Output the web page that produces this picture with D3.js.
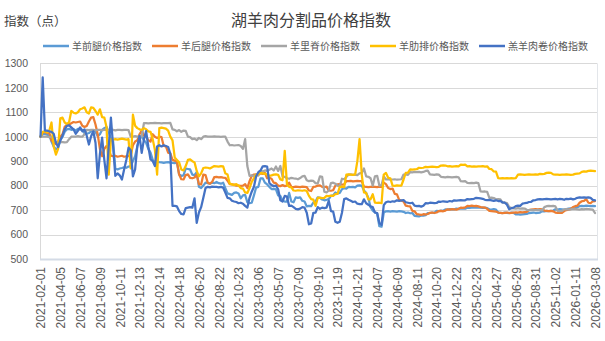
<!DOCTYPE html>
<html>
<head>
<meta charset="utf-8">
<script src="https://cdn.jsdelivr.net/npm/d3@7"></script>
<style>
  body { margin: 0; background: #fff; }
  svg { display: block; }
  text { font-family: "Microsoft YaHei", "Noto Sans CJK SC", sans-serif; }
</style>
</head>
<body>
<svg id="chart" width="605" height="341"></svg>
<script>
// Category labels shown on the x axis (one every 9 weekly observations)
const tickLabels = ['2021-02-01','2021-04-05','2021-06-07','2021-08-09','2021-10-11','2021-12-13',
  '2022-02-14','2022-04-18','2022-06-20','2022-08-22','2022-10-23','2023-03-06','2023-05-07',
  '2023-07-09','2023-09-10','2023-11-19','2024-01-21','2024-04-07','2024-06-09','2024-08-11',
  '2024-10-20','2024-12-22','2025-02-23','2025-04-27','2025-06-29','2025-08-31','2025-11-02',
  '2026-01-11','2026-03-08'];
const tickStep = 9;

const yTicks = [500, 600, 700, 800, 900, 1000, 1100, 1200, 1300];

const seriesNames = ['羊前腿价格指数', '羊后腿价格指数', '羊里脊价格指数', '羊肋排价格指数', '羔羊肉卷价格指数'];
const seriesColors = ['#5B9BD5', '#ED7D31', '#A5A5A5', '#FFC000', '#4472C4'];

// 羊前腿价格指数
const foreLeg = [
  1000,1010,1012,1008,1005,980,960,948,955,985,
  1000,1020,1030,1032,1028,1030,1025,1032,1030,1028,
  1015,1012,1015,1022,1025,1020,1002,1010,1028,1035,
  1040,1020,990,980,870,866,870,872,875,873,
  878,880,900,920,960,990,1003,985,975,950,
  935,905,895,898,896,895,893,895,896,894,
  893,892,895,845,840,842,870,868,866,845,
  843,855,795,790,800,812,810,808,812,810,
  815,810,808,812,790,768,765,762,770,772,
  768,748,760,762,732,728,730,760,792,795,
  830,830,812,805,795,786,787,785,760,758,
  738,735,735,770,735,732,752,750,752,738,
  735,715,717,716,731,735,752,750,743,740,
  742,745,758,760,772,768,770,785,790,788,
  795,794,795,793,800,801,800,780,770,750,
  712,698,690,686,634,632,690,695,696,694,
  696,695,694,696,695,693,688,690,687,688,
  676,675,674,678,677,679,688,688,690,689,
  697,696,698,697,703,702,704,703,703,706,
  705,707,706,706,710,709,710,711,710,710,
  710,709,710,708,703,702,704,702,690,689,
  688,690,689,688,690,689,682,683,681,682,
  683,684,688,689,690,688,689,690,696,695,
  697,696,697,698,703,702,704,703,702,704,
  706,707,706,708,712,716,717,716,718,717,
  716,717,716
];

// 羊后腿价格指数
const hindLeg = [
  1000,1018,1020,1015,1016,985,975,970,980,1000,
  1010,1040,1048,1050,1055,1060,1058,1060,1062,1045,
  1040,1044,1062,1078,1080,1050,1010,950,920,950,
  962,948,922,920,922,918,920,922,918,920,
  921,925,965,980,985,1010,1025,1005,1000,985,
  980,1010,1000,995,1000,998,962,960,935,932,
  905,902,898,845,826,825,843,846,832,830,
  833,845,806,805,845,843,812,808,815,835,
  836,834,835,833,832,820,806,805,804,800,
  800,799,800,806,790,818,840,845,846,845,
  850,848,852,830,832,828,812,810,800,798,
  802,798,800,812,795,794,796,795,794,796,
  795,794,780,778,795,796,800,801,795,794,
  796,780,779,781,800,805,806,804,805,818,
  818,819,817,818,819,818,818,796,795,794,
  795,796,795,794,796,795,812,806,790,786,
  788,766,764,742,738,735,718,716,715,697,
  695,683,682,680,683,682,684,689,690,688,
  690,696,697,695,698,703,702,704,703,702,
  705,710,709,711,717,716,718,716,717,715,
  712,711,710,705,697,696,695,694,690,689,
  688,689,690,688,689,690,691,690,692,691,
  692,693,700,702,703,704,703,704,703,698,
  697,696,697,695,690,689,690,689,696,700,
  702,705,712,716,718,730,736,738,745,730,
  728,736,737
];

// 羊里脊价格指数
const tenderloin = [
  1000,1000,1000,1000,998,1000,985,978,976,978,
  978,977,978,990,1000,1000,1000,1002,1000,1000,
  1010,1028,1027,1028,1028,1026,1028,1028,1027,1028,
  1028,1027,1028,1028,1026,1028,1028,1027,1028,1028,
  1027,1000,1000,1002,1000,1000,1001,1055,1055,1054,
  1055,1055,1056,1055,1055,1054,1055,1055,1055,1056,
  1030,1028,1022,1027,1020,1025,1024,1000,998,990,
  992,986,995,990,1000,1002,1000,1000,1000,1001,
  1000,1000,999,1000,1000,980,965,966,964,965,
  966,962,950,990,880,840,842,840,843,841,
  860,858,862,860,865,870,862,878,860,880,
  838,836,830,828,832,830,829,826,831,838,
  840,822,818,820,819,810,809,838,836,775,
  772,780,810,812,808,800,798,828,826,835,
  845,846,844,845,843,850,852,870,838,836,
  830,800,838,840,800,802,838,825,826,824,
  825,826,824,825,826,845,846,844,855,854,
  856,855,856,854,856,860,861,846,845,844,
  846,845,836,835,834,836,835,834,835,836,
  834,818,817,818,811,810,811,810,812,810,
  776,775,776,774,750,751,749,744,745,744,
  730,731,729,712,708,707,706,708,706,707,
  706,701,700,701,700,700,701,700,699,712,
  716,717,716,717,715,697,696,697,703,704,
  702,703,705,704,703,702,704,703,705,704,
  703,702,688
];

// 羊肋排价格指数
const ribs = [
  1000,1020,1022,1018,1025,1058,960,927,950,1075,
  1078,1058,1052,1060,1105,1098,1095,1100,1112,1115,
  1120,1100,1095,1120,1118,1105,1090,1112,1080,1078,
  1040,845,990,988,990,988,990,992,990,988,
  990,870,1090,1045,1035,1030,1028,1035,1030,1022,
  1020,990,945,845,1035,1037,1035,1033,1025,1000,
  985,915,905,895,866,862,880,905,907,900,
  895,860,838,850,872,874,873,870,875,880,
  879,878,880,879,850,845,808,805,802,806,
  800,790,788,772,770,790,815,830,845,846,
  852,850,848,845,840,842,845,846,844,825,
  822,942,805,795,793,780,779,781,780,779,
  781,778,758,745,743,717,750,751,749,750,
  758,757,759,758,765,766,795,796,794,845,
  846,845,844,846,900,990,845,772,770,744,
  744,765,730,729,730,728,845,852,832,830,
  800,799,801,800,800,825,852,853,866,865,
  866,867,873,872,873,877,876,877,878,877,
  876,877,882,883,882,879,880,878,879,880,
  879,886,885,886,879,880,878,879,878,879,
  879,880,878,879,868,867,858,857,831,830,
  831,830,831,830,831,830,831,845,846,845,
  844,845,846,845,845,846,845,848,847,848,
  852,853,852,846,845,845,844,845,845,846,
  845,844,845,848,849,850,856,858,857,860,
  861,860,859
];

// 羔羊肉卷价格指数
const lambRoll = [
  1000,1242,1025,1025,1022,1020,1012,975,958,985,
  1005,1030,1044,1046,1038,1030,1012,1024,1038,1022,
  1030,1004,968,1002,1022,975,830,930,996,905,
  830,960,1078,960,840,850,842,825,866,905,
  955,945,838,866,962,1003,934,989,1023,960,
  907,900,880,960,965,960,965,962,958,930,
  717,717,715,696,684,682,708,710,712,710,
  748,648,690,712,750,790,795,793,796,795,
  795,793,795,792,772,750,748,738,735,733,
  728,730,726,717,710,750,775,795,838,855,
  862,879,880,878,811,802,798,800,785,740,
  735,758,755,717,718,712,705,703,706,712,
  710,689,642,645,689,690,712,705,710,708,
  710,738,696,694,652,648,652,689,745,748,
  742,738,733,735,726,724,724,744,728,722,
  715,712,690,688,647,640,720,732,735,733,
  736,735,740,738,740,741,732,730,728,730,
  718,716,717,714,718,728,727,730,729,728,
  729,735,734,736,735,734,737,735,740,739,
  740,741,740,740,745,744,745,746,750,749,
  748,746,742,741,742,740,738,740,737,738,
  731,730,722,703,708,710,716,718,717,726,
  728,729,733,734,740,741,744,745,744,745,
  746,745,744,745,746,744,746,745,742,746,
  745,747,744,746,750,752,751,752,751,752,
  750,742,740
];

const seriesValues = [foreLeg, hindLeg, tenderloin, ribs, lambRoll];

const svg = d3.select('#chart');
const plot = { left: 40, right: 597, top: 63.3, bottom: 259 };
const lastIndex = foreLeg.length - 1;

const x = d3.scaleLinear().domain([0, lastIndex]).range([plot.left + 0.5, 595]);
const y = d3.scaleLinear().domain([500, 1300]).range([plot.bottom, plot.top]);

// horizontal gridlines
svg.append('g')
  .selectAll('line')
  .data(yTicks.filter(v => v > 500))
  .join('line')
  .attr('x1', plot.left).attr('x2', plot.right)
  .attr('y1', d => Math.round(y(d)) + 0.5).attr('y2', d => Math.round(y(d)) + 0.5)
  .attr('stroke', '#D9D9D9').attr('stroke-width', 1);

// plot frame: left axis, right edge and a soft bottom edge
svg.append('line').attr('x1', plot.left + 0.5).attr('x2', plot.left + 0.5)
  .attr('y1', plot.top).attr('y2', plot.bottom).attr('stroke', '#D9D9D9');
svg.append('line').attr('x1', plot.right + 0.5).attr('x2', plot.right + 0.5)
  .attr('y1', plot.top).attr('y2', plot.bottom + 1).attr('stroke', '#E3E6EA');
svg.append('line').attr('x1', plot.left).attr('x2', plot.right + 1)
  .attr('y1', plot.bottom + 0.5).attr('y2', plot.bottom + 0.5).attr('stroke', '#D4DBE6').attr('stroke-width', 2);

// y axis labels
const yAxis = svg.append('g')
  .attr('transform', `translate(${plot.left},0)`)
  .call(d3.axisLeft(y).tickValues(yTicks).tickSize(0).tickPadding(12).tickFormat(d3.format('d')));
yAxis.select('.domain').remove();
yAxis.selectAll('text')
  .style('font-family', '"Liberation Sans", Arial, sans-serif')
  .style('font-size', '10.5px')
  .attr('fill', '#595959');

// x axis labels, rotated
const tickIndex = tickLabels.map((_, k) => k * tickStep);
const xAxis = svg.append('g')
  .attr('transform', `translate(0,${plot.bottom})`)
  .call(d3.axisBottom(x).tickValues(tickIndex).tickSize(0).tickFormat(i => tickLabels[i / tickStep]));
xAxis.select('.domain').remove();
xAxis.selectAll('text')
  .attr('transform', 'rotate(-90)')
  .attr('text-anchor', 'end')
  .attr('x', -8)
  .attr('y', 0)
  .attr('dy', '0.36em')
  .style('font-family', '"Liberation Sans", Arial, sans-serif')
  .style('font-size', '12px')
  .attr('fill', '#595959');

// series lines
const line = d3.line().x((d, i) => x(i)).y(d => y(d));
svg.append('g')
  .selectAll('path')
  .data(seriesValues)
  .join('path')
  .attr('d', line)
  .attr('fill', 'none')
  .attr('stroke', (d, i) => seriesColors[i])
  .attr('stroke-width', 2.25)
  .attr('stroke-linejoin', 'round')
  .attr('stroke-linecap', 'round');

// title and unit
svg.append('text')
  .attr('x', 311).attr('y', 26)
  .attr('text-anchor', 'middle')
  .style('font-size', '16px')
  .attr('fill', '#404040')
  .text('湖羊肉分割品价格指数');
svg.append('text')
  .attr('x', 4).attr('y', 26)
  .style('font-size', '12.5px')
  .attr('fill', '#404040')
  .text('指数（点）');

// legend
const legend = svg.append('g').attr('transform', 'translate(0,46)');
let lx = 43;
seriesNames.forEach((name, i) => {
  legend.append('line')
    .attr('x1', lx).attr('x2', lx + 26)
    .attr('y1', 0).attr('y2', 0)
    .attr('stroke', seriesColors[i]).attr('stroke-width', 2.5);
  const t = legend.append('text')
    .attr('x', lx + 29).attr('y', 0).attr('dy', '0.35em')
    .style('font-size', '10px')
    .attr('fill', '#595959')
    .text(name);
  lx += 29 + t.node().getComputedTextLength() + 10;
});
</script>
</body>
</html>
